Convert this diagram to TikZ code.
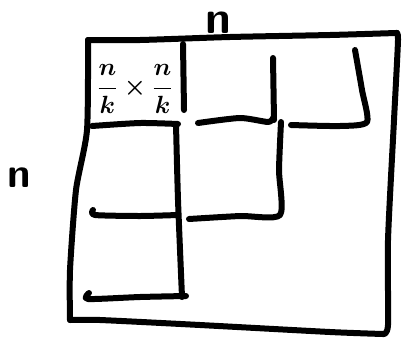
\documentclass[tikz,border=0pt]{standalone}
\usepackage{tikz}
\usetikzlibrary{positioning, calc}
\usepackage{amsmath, amssymb}

\begin{document}
\begin{tikzpicture}[
  x=1pt, y=-1pt,
  pen/.style={draw=black, line width=6pt, line cap=round, line join=round},
  biglabel/.style={font=\sffamily\bfseries\fontsize{46}{46}\selectfont, inner sep=0pt},
  blklabel/.style={font=\fontsize{24}{26}\selectfont\boldmath, inner sep=0pt}
]
  \useasboundingbox (0,0) rectangle (419,343);
  % outer n x n square
  \draw[pen] plot[smooth, tension=0.4] coordinates {(88,40) (140,40) (230,37) (330,35) (396,33)};
  \draw[pen] plot[smooth, tension=0.4] coordinates {(396,33) (398,40) (394,120) (388,240) (388,325) (383,334)};
  \draw[pen] plot[smooth, tension=0.4] coordinates {(383,334) (330,332) (200,325) (100,320) (70,320)};
  \draw[pen] plot[smooth, tension=0.4] coordinates {(70,320) (70,270) (76,190) (87,130) (88,40)};
  % blocks
  \draw[pen] (183,44) -- (184,110);
  \draw[pen] plot[smooth, tension=0.4] coordinates {(92,126) (140,123) (178,124)};
  \draw[pen] plot[smooth, tension=0.4] coordinates {(176,124) (178,200) (182,297)};
  \draw[pen] plot[smooth, tension=0.4] coordinates {(198,123) (240,118) (268,122) (273,118)};
  \draw[pen] (273,58) -- (274,120);
  \draw[pen] plot[smooth, tension=0.4] coordinates {(355,50) (362,90) (367,122) (340,126) (291,125)};
  \draw[pen] plot[smooth, tension=0.4] coordinates {(281,122) (279,170) (280,215) (240,216) (189,219)};
  \draw[pen] plot[smooth, tension=0.4] coordinates {(93,210) (95,215) (140,216) (178,215)};
  \draw[pen] plot[smooth, tension=0.4] coordinates {(89,293) (88,299) (140,297) (186,296)};
  % labels
  \node[blklabel] (blk) at (135,89) {$\dfrac{n}{k}\times\dfrac{n}{k}$};
  \node[biglabel] (ntop) at (218,23) {n};
  \node[biglabel, font=\sffamily\bfseries\fontsize{42}{42}\selectfont] (nleft) at (19,178) {n};
\end{tikzpicture}
\end{document}
